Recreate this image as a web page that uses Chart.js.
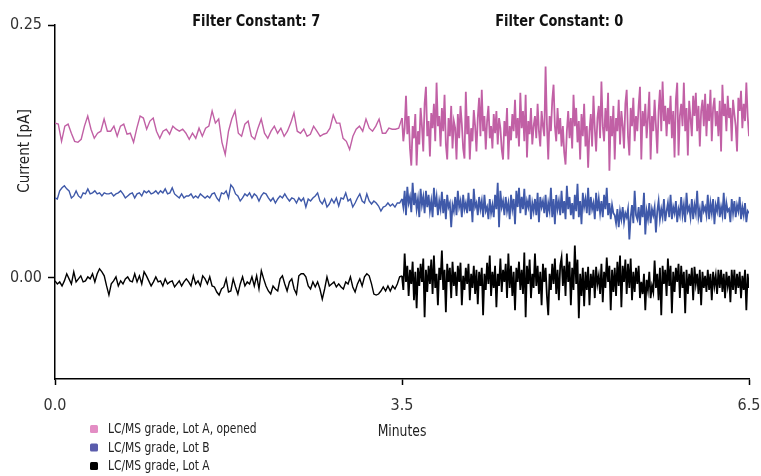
<!DOCTYPE html>
<html><head><meta charset="utf-8">
<script src="https://cdn.jsdelivr.net/npm/chart.js@4"></script>
<style>html,body{margin:0;padding:0;background:#fff}#wrap{width:761px;height:476px;position:relative}</style>
</head><body><div id="wrap"><canvas id="c" width="761" height="476"></canvas></div>
<script>
// ---- data (pA) ----
const seriesNames = ['LC/MS grade, Lot A, opened', 'LC/MS grade, Lot B', 'LC/MS grade, Lot A'];
const lineColors = ['#c160a5', '#3f59a9', '#000000'];
const legendColors = ['#e38dc4', '#5a5cac', '#000000'];
const segmentTitles = ['Filter Constant: 7', 'Filter Constant: 0'];
const segmentStarts = [0, 3.5];   // minutes
const segmentEnds = [3.5, 6.5];   // minutes
const xTickMinutes = [0, 3.5, 6.5];
const xTickLabels = ['0.0', '3.5', '6.5'];
const yTickValues = [0, 0.25];

// Filter constant 7 (0 – 3.5 min)
const pinkFiltered = [.153,.152,.135,.150,.152,.143,.135,.134,.137,.150,
.160,.147,.138,.143,.145,.157,.145,.145,.150,.140,
.150,.152,.142,.143,.134,.148,.160,.158,.147,.155,
.158,.145,.138,.145,.147,.142,.150,.147,.145,.147,
.143,.137,.143,.138,.148,.140,.148,.150,.165,.153,
.157,.134,.122,.145,.157,.165,.143,.140,.152,.155,
.140,.137,.148,.157,.143,.138,.145,.150,.143,.148,
.140,.145,.153,.163,.145,.143,.147,.140,.142,.150,
.145,.140,.142,.143,.148,.161,.153,.153,.138,.135,
.127,.140,.147,.150,.145,.157,.148,.145,.150,.157,
.143,.143,.148,.147,.147,.148];
const blueFiltered = [.079,.078,.086,.089,.091,.088,.086,.079,.081,.086,
.081,.079,.084,.083,.088,.083,.084,.086,.083,.084,
.081,.084,.083,.083,.084,.081,.083,.084,.086,.083,
.079,.081,.083,.084,.079,.083,.084,.081,.086,.084,
.086,.083,.084,.086,.083,.086,.084,.088,.083,.084,
.089,.083,.081,.079,.083,.079,.081,.081,.083,.079,
.081,.079,.083,.081,.079,.081,.079,.083,.084,.079,
.076,.084,.083,.086,.079,.092,.089,.083,.081,.076,
.079,.083,.081,.084,.079,.083,.081,.076,.081,.084,
.083,.079,.076,.079,.074,.078,.081,.079,.083,.079,
.076,.079,.078,.074,.079,.076,.079,.070,.078,.076,
.079,.081,.084,.076,.073,.078,.070,.073,.078,.074,
.079,.071,.079,.078,.084,.076,.078,.070,.074,.079,
.083,.076,.074,.083,.076,.073,.076,.074,.071,.066,
.070,.071,.074,.071,.073,.070,.074,.074];
const blackFiltered = [-.003,-.006,-.004,-.008,-.003,.004,-.001,-.006,.006,-.004,
-.001,.002,-.004,-.003,.001,-.001,.004,-.004,.004,.009,
.006,.002,-.008,-.017,-.006,-.003,.001,-.008,-.003,-.006,
-.001,.001,-.003,-.004,.004,-.004,.002,-.006,.006,.002,
-.003,-.008,-.004,.001,-.004,-.003,-.008,-.001,-.006,-.004,
-.003,-.009,-.006,-.003,-.008,-.004,-.001,-.004,-.008,.002,
-.006,-.003,-.008,.002,-.001,-.006,.001,-.008,-.009,-.014,
-.017,-.011,-.009,-.001,-.014,-.013,-.001,-.009,-.016,-.006,
.001,-.008,-.004,-.006,.001,-.008,.002,-.011,.007,-.001,
-.008,-.013,-.016,-.008,-.011,-.013,-.001,.002,-.006,-.013,
-.004,-.001,-.011,-.016,.002,.004,.004,.001,-.008,-.011,
-.004,-.009,-.004,-.011,-.021,-.011,.001,-.008,-.006,-.004,
-.009,-.006,-.009,-.011,-.004,-.006,.001,-.009,-.014,-.006,
-.001,-.008,.001,.004,.002,-.006,-.016,-.017,-.016,-.013,
-.009,-.013,-.008,-.013,-.008,-.011,-.006,.001];

// Filter constant 0 (3.5 – 6.5 min)
const pinkRaw = [.158,.135,.148,.180,.142,.160,.128,.111,.150,.138,
.162,.111,.145,.132,.168,.150,.125,.172,.189,.140,
.155,.120,.163,.148,.172,.135,.193,.150,.160,.130,
.168,.145,.181,.132,.117,.158,.140,.170,.128,.155,
.148,.117,.162,.138,.170,.152,.128,.118,.184,.142,
.160,.117,.148,.135,.166,.150,.125,.158,.178,.140,
.186,.145,.160,.127,.155,.170,.138,.150,.128,.162,
.143,.165,.132,.158,.148,.127,.117,.155,.140,.168,
.117,.150,.136,.162,.145,.176,.138,.158,.130,.183,
.148,.165,.135,.181,.119,.155,.142,.168,.132,.150,
.160,.138,.172,.145,.130,.165,.150,.140,.209,.152,
.117,.160,.145,.175,.191,.150,.135,.168,.142,.158,
.130,.150,.124,.112,.145,.165,.138,.158,.128,.181,
.150,.168,.134,.155,.117,.162,.140,.172,.130,.150,
.109,.145,.162,.130,.180,.148,.125,.158,.170,.138,
.194,.150,.135,.168,.145,.183,.106,.160,.140,.170,
.117,.158,.145,.176,.132,.165,.150,.128,.172,.186,
.140,.121,.168,.150,.178,.135,.160,.145,.170,.189,
.117,.165,.150,.172,.138,.158,.184,.117,.160,.145,
.176,.150,.123,.165,.186,.145,.194,.155,.170,.140,
.168,.152,.180,.138,.165,.119,.176,.193,.121,.160,
.172,.150,.193,.145,.168,.121,.175,.158,.140,.180,
.160,.183,.145,.170,.130,.165,.176,.150,.182,.140,
.172,.155,.186,.135,.168,.178,.150,.165,.140,.175,
.125,.191,.160,.172,.145,.180,.158,.168,.135,.176,
.162,.150,.125,.178,.165,.185,.148,.172,.155,.193,.160,.140];
const blueRaw = [.078,.070,.086,.062,.090,.074,.080,.065,.094,.072,
.084,.068,.078,.060,.088,.072,.080,.064,.086,.070,
.082,.066,.076,.060,.089,.070,.080,.062,.076,.068,
.085,.064,.078,.058,.082,.070,.074,.050,.072,.066,
.080,.062,.086,.070,.076,.060,.082,.068,.074,.064,
.084,.066,.078,.055,.088,.070,.074,.062,.080,.068,
.076,.060,.082,.066,.070,.058,.078,.064,.072,.060,
.082,.068,.094,.050,.086,.070,.076,.062,.080,.066,
.074,.058,.082,.068,.078,.053,.086,.070,.089,.064,
.080,.068,.088,.062,.076,.070,.082,.058,.074,.066,
.078,.062,.084,.055,.080,.070,.076,.064,.082,.060,
.074,.066,.089,.060,.078,.053,.082,.068,.076,.062,
.086,.064,.076,.058,.091,.068,.080,.062,.074,.058,
.082,.066,.093,.060,.076,.053,.084,.070,.078,.064,
.089,.062,.080,.068,.074,.058,.084,.066,.078,.064,
.076,.060,.082,.068,.089,.062,.074,.058,.072,.064,
.062,.054,.068,.050,.066,.058,.070,.055,.064,.060,
.068,.038,.060,.072,.054,.086,.062,.058,.070,.052,
.072,.060,.084,.043,.066,.058,.074,.054,.068,.062,
.070,.045,.066,.076,.058,.068,.060,.078,.056,.066,
.074,.060,.082,.058,.070,.064,.076,.055,.068,.062,
.080,.062,.072,.055,.084,.066,.070,.060,.078,.058,
.072,.064,.086,.060,.068,.055,.076,.066,.070,.062,
.082,.058,.074,.064,.078,.053,.072,.066,.080,.060,
.070,.062,.084,.058,.074,.066,.068,.055,.078,.064,
.076,.060,.072,.066,.080,.058,.070,.062,.074,.055,.066,.064];
const blackRaw = [.002,-.012,.024,-.004,.012,-.018,.008,-.006,.016,-.022,
.006,-.030,.010,-.008,.014,-.004,.019,-.039,.008,-.014,
.012,-.006,.018,-.016,.022,-.010,.004,-.027,.010,-.002,
.027,-.012,.008,-.034,.014,-.004,.010,-.020,.016,-.008,
.006,-.018,.012,-.004,.015,-.027,.002,-.012,.010,-.006,
.014,-.022,.004,-.010,.012,-.016,.008,-.026,.006,-.008,
.010,-.037,.004,-.012,.015,-.006,.022,-.018,.006,-.010,
.012,-.029,.004,-.008,.019,-.014,.008,-.004,.014,-.020,
.024,-.010,.012,-.018,.006,-.032,.010,-.004,.016,-.012,
.008,-.016,.025,-.039,.012,-.006,.018,-.020,.004,-.010,
.024,-.008,.012,-.016,.006,-.027,.014,-.004,.010,-.018,
-.037,.004,-.012,.014,-.006,.019,-.016,.008,-.022,.012,
.020,-.008,.012,-.018,.024,-.004,.016,-.027,.010,-.012,
.032,-.006,.018,-.040,.004,-.018,.010,-.028,.006,-.012,
.011,-.027,.004,-.010,.008,-.020,.011,-.006,.002,-.016,
.014,-.024,.006,-.010,.020,-.004,.012,-.032,.008,-.014,
.010,-.018,.016,-.008,.022,-.029,.012,-.004,.018,-.016,
.014,-.010,.019,-.022,.006,-.014,.010,-.006,.012,-.020,
-.004,-.016,.004,-.032,-.002,-.012,.006,-.020,-.008,-.014,
.017,-.010,.004,-.022,.010,-.037,.012,-.006,.008,-.018,
.019,-.008,.012,-.035,.006,-.014,.010,-.004,.014,-.020,
.012,-.010,.006,-.035,.008,-.016,.004,-.008,.010,-.022,
.011,-.006,.004,-.016,.008,-.027,.006,-.010,.002,-.014,
.008,-.012,.004,-.022,.006,-.008,.002,-.016,.008,-.010,
.008,-.014,.004,-.020,.006,-.008,.002,-.024,.008,-.012,
.008,-.016,.004,-.010,.006,-.020,.002,-.012,.008,-.032,.004,-.010];

// ---- build ----
// the x axis is drawn broken: each filter segment takes half of the axis width
const AXIS_HALF = 3.5;
function axisPos(min) {
  return min <= segmentEnds[0] ? min
    : AXIS_HALF + (min - segmentStarts[1]) * AXIS_HALF / (segmentEnds[1] - segmentStarts[1]);
}
function buildPoints(filtered, raw) {
  const pts = [];
  filtered.forEach((v, i) => {
    const m = segmentStarts[0] + (segmentEnds[0] - segmentStarts[0]) * i / filtered.length;
    pts.push({ x: axisPos(m), y: v });
  });
  raw.forEach((v, j) => {
    const m = segmentStarts[1] + (segmentEnds[1] - segmentStarts[1]) * j / (raw.length - 1);
    pts.push({ x: axisPos(m), y: v });
  });
  return pts;
}
const allSeries = [[pinkFiltered, pinkRaw], [blueFiltered, blueRaw], [blackFiltered, blackRaw]];

const FONT = "'DejaVu Sans Condensed','Liberation Sans Narrow',sans-serif";

function drawText(ctx, text, x, y, sx, rot) {
  ctx.save();
  ctx.translate(x, y);
  if (rot) ctx.rotate(rot);
  ctx.scale(sx, 1);
  ctx.fillText(text, 0, 0);
  ctx.restore();
}

const overlay = {
  id: 'overlay',
  afterDraw(chart) {
    const ctx = chart.ctx, xs = chart.scales.x;
    ctx.save();
    ctx.textBaseline = 'middle';
    // segment titles
    ctx.fillStyle = '#111';
    ctx.font = 'bold 15.5px ' + FONT;
    ctx.textAlign = 'center';
    const titleAt = [2.03, 4.86];
    segmentTitles.forEach((t, i) => drawText(ctx, t, xs.getPixelForValue(axisPos(titleAt[i])), 22, 0.93));
    // axis titles
    ctx.fillStyle = '#222';
    ctx.font = '16px ' + FONT;
    drawText(ctx, 'Minutes', xs.getPixelForValue(axisPos(3.5)), 432, 0.86);
    drawText(ctx, 'Current [pA]', 25, 151, 0.94, -Math.PI / 2);
    // legend
    ctx.font = '14px ' + FONT;
    ctx.textAlign = 'left';
    seriesNames.forEach((n, i) => {
      const y = 429 + i * 18.5;
      ctx.fillStyle = legendColors[i];
      ctx.beginPath();
      if (ctx.roundRect) ctx.roundRect(90, y - 4, 8, 8, 1.5); else ctx.rect(90, y - 4, 8, 8);
      ctx.fill();
      ctx.fillStyle = '#222';
      drawText(ctx, n, 108, y + 0.5, 0.85);
    });
    ctx.restore();
  }
};

new Chart(document.getElementById('c'), {
  type: 'line',
  data: {
    datasets: allSeries.map((s, i) => ({
      label: seriesNames[i],
      data: buildPoints(s[0], s[1]),
      borderColor: lineColors[i],
      borderWidth: 1.4,
      segment: { borderWidth: ctx => ctx.p0.parsed.x >= AXIS_HALF ? 1.8 : 1.4 },
      pointRadius: 0,
      tension: 0,
      fill: false
    }))
  },
  options: {
    responsive: false,
    devicePixelRatio: 1,
    animation: false,
    layout: { padding: { top: 25, right: 12, left: 0, bottom: 0 } },
    plugins: { legend: { display: false }, tooltip: { enabled: false } },
    scales: {
      x: {
        type: 'linear', min: 0, max: 2 * AXIS_HALF,
        border: { display: true, color: '#000', width: 1.5 },
        grid: { drawOnChartArea: false, drawTicks: true, tickLength: 6, color: '#000', tickWidth: 1.5 },
        afterBuildTicks: s => { s.ticks = xTickMinutes.map(m => ({ value: axisPos(m) })); },
        ticks: { callback: (v, i) => xTickLabels[i], color: '#333', padding: 11, maxRotation: 0,
                 font: { family: FONT, size: 16 } },
        afterFit: s => { s.height = 97; s.paddingLeft = 0; s.paddingRight = 0; }
      },
      y: {
        type: 'linear', min: -0.1, max: 0.25,
        border: { display: true, color: '#000', width: 1.5 },
        grid: { drawOnChartArea: false, drawTicks: true, tickLength: 7, color: '#000', tickWidth: 1.5 },
        afterBuildTicks: s => { s.ticks = yTickValues.map(v => ({ value: v })); },
        ticks: { callback: v => v.toFixed(2), color: '#333', padding: 6,
                 font: { family: FONT, size: 16 } },
        afterFit: s => { s.width = 55; s.paddingTop = 0; s.paddingBottom = 0; }
      }
    }
  },
  plugins: [overlay]
});
</script></body></html>
